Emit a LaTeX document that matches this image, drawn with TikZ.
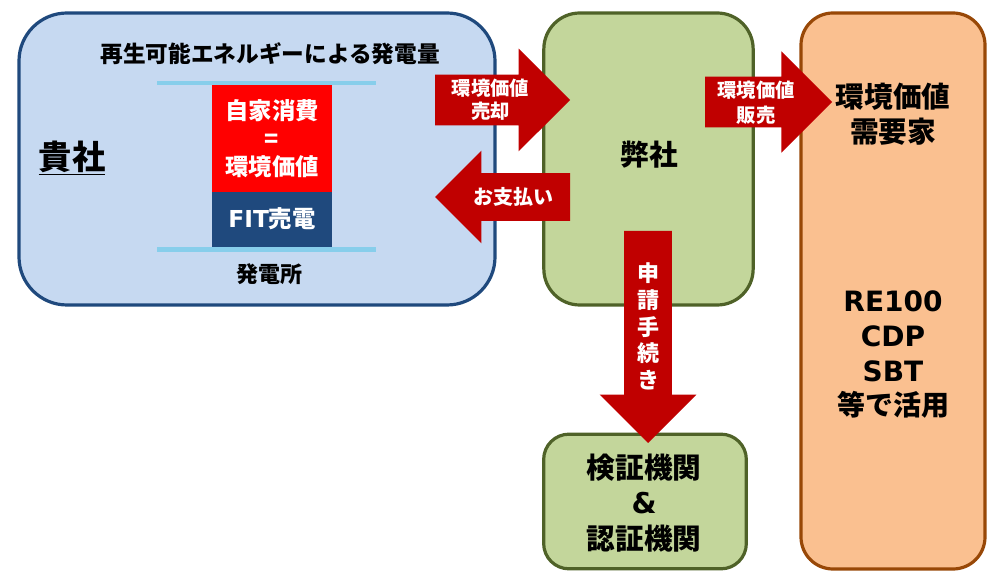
\documentclass[tikz,border=0pt]{standalone}
\usepackage{fontspec}
\setmainfont{Noto Sans CJK JP}
\newfontfamily\latinfont{DejaVu Sans}
\usetikzlibrary{shapes.arrows}
\definecolor{kishablue}{HTML}{C6D9F1}
\definecolor{kishaline}{HTML}{1F497D}
\definecolor{heishagreen}{HTML}{C3D69B}
\definecolor{heishaline}{HTML}{4F6228}
\definecolor{demandfill}{HTML}{FAC090}
\definecolor{demandline}{HTML}{984807}
\definecolor{arrowred}{HTML}{C00000}
\definecolor{barblue}{HTML}{87CEEB}

\begin{document}
\begin{tikzpicture}[
    x=0.75pt, y=-0.75pt,
    every node/.style={
      font=\bfseries, align=center, inner sep=0pt, outer sep=0pt
    },
    party/.style n args={5}{
      rectangle, draw=#4, fill=#5, line width=2.4pt, rounded corners=#3,
      minimum width=#1, minimum height=#2
    },
    bigarrow/.style n args={3}{
      single arrow, fill=arrowred, single arrow head indent=0pt,
      minimum height=#1, text height=#2, text depth=0pt, text width=0pt,
      single arrow head extend=#3, anchor=tail
    },
    block/.style={rectangle, text=white, minimum width=90pt},
    bar/.style={rectangle, fill=barblue, minimum width=164pt, minimum height=3.4pt}
  ]
  \useasboundingbox (0,0) rectangle (1000,584);
  \node[party={357pt}{219pt}{36pt}{kishaline}{kishablue}] (kisha) at (257,159) {};
  \node[party={157pt}{219pt}{27pt}{heishaline}{heishagreen}] (heisha) at (648.5,159) {};
  \node[party={138pt}{417pt}{24pt}{demandline}{demandfill}] (demand) at (893,291) {};
  \node[party={152pt}{101pt}{19pt}{heishaline}{heishagreen}] (kikan) at (645,501.5) {};

  \node[font=\bfseries\fontsize{17}{20}\selectfont] (title) at (270,54) {再生可能エネルギーによる発電量};
  \node[bar] (bartop) at (266.5,83) {};
  \node[bar] (barbottom) at (266.5,249.5) {};
  \node[block, fill=red, minimum height=80.25pt, font=\bfseries\fontsize{17.5}{21}\selectfont] (jika) at (272,138.5) {自家消費\\=\\環境価値};
  \node[block, fill=kishaline, minimum height=41.25pt, font=\bfseries\fontsize{17.5}{20}\selectfont] (fit) at (272,219.5) {\raisebox{2.5pt}{{\latinfont FIT}売電}};
  \node[font=\bfseries\fontsize{16.5}{20}\selectfont] (plant) at (269.5,274) {発電所};
  \node[font=\bfseries\fontsize{25}{30}\selectfont] (kishaname) at (72,158) {\underline{貴社}};

  \node[bigarrow={101.25pt}{37.5pt}{19.5pt}] (sell) at (435,100) {};
  \node[bigarrow={101.25pt}{35.25pt}{17pt}, rotate=180] (pay) at (570,197) {};
  \node[bigarrow={95.25pt}{37.5pt}{19pt}] (resale) at (705,102) {};
  \node[bigarrow={159pt}{35.25pt}{18.5pt}, rotate=-90] (apply) at (648,231) {};

  \node[text=white, font=\bfseries\fontsize{14.5}{17.5}\selectfont] (selltext) at (490.5,100) {環境価値\\売却};
  \node[text=white, font=\bfseries\fontsize{15}{20}\selectfont] (paytext) at (513,197) {お支払い};
  \node[text=white, font=\bfseries\fontsize{14.5}{18.5}\selectfont] (resaletext) at (756,102.5) {環境価値\\販売};
  \node[text=white, font=\bfseries\fontsize{16.5}{20}\selectfont] (applytext) at (648,326.5) {申\\請\\手\\続\\き};

  \node[font=\bfseries\fontsize{21.5}{27}\selectfont] (heishaname) at (649.5,155) {弊社};
  \node[font=\bfseries\fontsize{21.5}{26}\selectfont] (demandname) at (893,114) {環境価値\\需要家};
  \node[font=\bfseries\fontsize{21}{26}\selectfont] (usage) at (893,355) {{\latinfont RE100}\\{\latinfont CDP}\\{\latinfont SBT}\\等で活用};
  \node[font=\bfseries\fontsize{21.5}{26.5}\selectfont] (kikanname) at (644,503) {検証機関\\{\latinfont\&}\\認証機関};
\end{tikzpicture}
\end{document}
